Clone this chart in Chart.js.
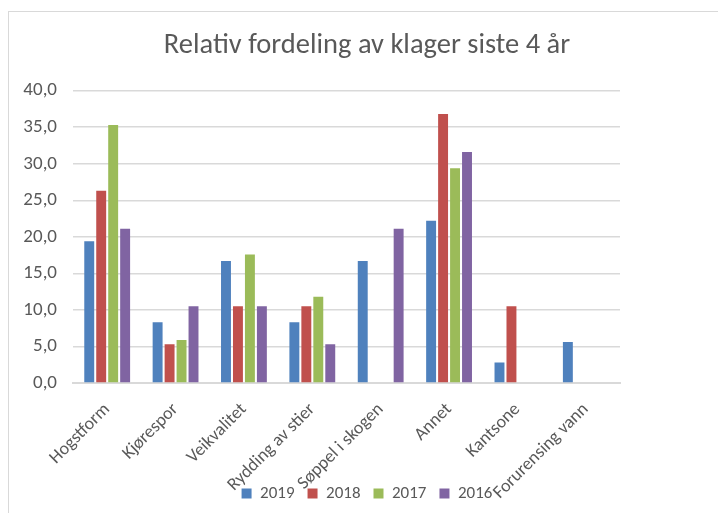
<!DOCTYPE html>
<html>
<head>
<meta charset="utf-8">
<script src="https://cdn.jsdelivr.net/npm/chart.js@4"></script>
<style>
    body { margin: 0; background: #fff; }
    #frame { position: absolute; left: 8px; top: 11px; width: 800px; height: 600px; border: 1px solid #d9d9d9; }
    #wrap { position: absolute; left: 0; top: 0; width: 718px; height: 513px; }
</style>
</head>
<body>
<div id="frame"></div>
<div id="wrap"><canvas id="klagerChart" width="718" height="513"></canvas></div>
<script>
// Chart data
const categories = ['Hogstform', 'Kjørespor', 'Veikvalitet', 'Rydding av stier', 'Søppel i skogen', 'Annet', 'Kantsone', 'Forurensing vann'];
const values2019 = [19.4, 8.3, 16.7, 8.3, 16.7, 22.2, 2.8, 5.6];
const values2018 = [26.3, 5.3, 10.5, 10.5, 0, 36.8, 10.5, 0];
const values2017 = [35.3, 5.9, 17.6, 11.8, 0, 29.4, 0, 0];
const values2016 = [21.1, 10.5, 10.5, 5.3, 21.1, 31.6, 0, 0];
const seriesLabels = ['2019', '2018', '2017', '2016'];
const seriesColors = ['#4f81bd', '#c0504d', '#9bbb59', '#8064a2'];

const fontFamily = 'Carlito, Roboto, sans-serif';
const textColor = '#595959';

// let the rotated category labels run down over the legend (like Excel does)
const unclipLabels = {
    id: 'unclipLabels',
    afterLayout(chart) {
        chart.scales.x.bottom = chart.height;
    }
};

const ctx = document.getElementById('klagerChart').getContext('2d');
const klagerChart = new Chart(ctx, {
    type: 'bar',
    data: {
        labels: categories,
        datasets: [values2019, values2018, values2017, values2016].map((vals, i) => ({
            label: seriesLabels[i],
            data: vals,
            backgroundColor: seriesColors[i],
            barPercentage: 0.83,
            categoryPercentage: 0.7
        }))
    },
    plugins: [unclipLabels],
    options: {
        responsive: false,
        animation: false,
        layout: {
            padding: { left: 16, right: 0, top: 0, bottom: 1 }
        },
        plugins: {
            title: {
                display: true,
                text: 'Relativ fordeling av klager siste 4 år',
                color: textColor,
                font: { family: fontFamily, size: 28.5, weight: '300' },
                padding: { top: 29, bottom: 27.5 }
            },
            legend: {
                position: 'bottom',
                labels: {
                    color: textColor,
                    font: { family: fontFamily, size: 17 },
                    boxWidth: 10,
                    boxHeight: 10,
                    padding: 13
                }
            },
            tooltip: { enabled: false }
        },
        scales: {
            x: {
                grid: { display: false },
                border: { color: '#d9d9d9', width: 2 },
                ticks: {
                    color: textColor,
                    font: { family: fontFamily, size: 18 },
                    minRotation: 45,
                    maxRotation: 45,
                    padding: 8
                },
                afterFit: function(scale) {
                    scale.height = 89;
                }
            },
            y: {
                min: 0,
                max: 40,
                ticks: {
                    stepSize: 5,
                    color: textColor,
                    font: { family: fontFamily, size: 19 },
                    padding: 16,
                    callback: v => v.toFixed(1).replace('.', ',')
                },
                grid: { color: '#d9d9d9', lineWidth: 1.5, drawTicks: false },
                border: { display: false },
                afterFit: function(scale) {
                    scale.width = 57;
                }
            },
            // empty space right of the plot
            y2: {
                type: 'linear',
                position: 'right',
                grid: { display: false },
                border: { display: false },
                ticks: { display: false },
                afterFit: function(scale) {
                    scale.width = 98;
                }
            }
        }
    }
});
</script>
</body>
</html>
